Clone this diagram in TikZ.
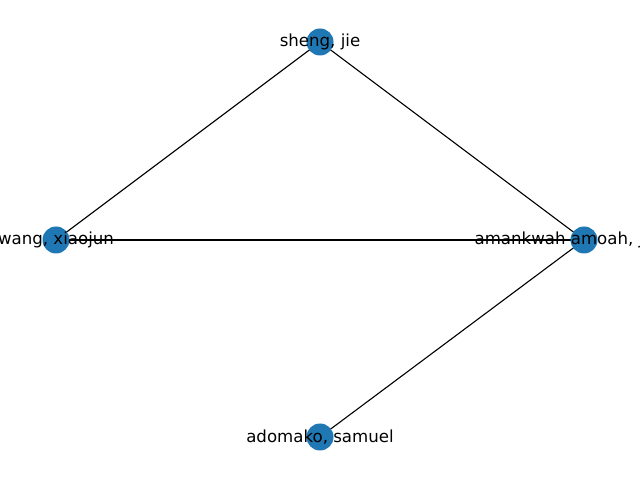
\documentclass[tikz,border=0pt]{standalone}
\usepackage{fontspec}
\setmainfont{DejaVu Sans}
\usetikzlibrary{backgrounds}
\definecolor{nodeblue}{HTML}{1F77B4}

\tikzset{vertex/.style={circle,fill=nodeblue,inner sep=0pt,minimum size=19.5pt},
         authorlabel/.style={font=\fontsize{12}{14}\selectfont,inner sep=0pt},
         edge/.style={draw=black,line width=0.8pt}}

\begin{document}
\begin{tikzpicture}[x=0.01in,y=-0.01in]
  \useasboundingbox (0,0) rectangle (640,480);
  \clip (0,0) rectangle (640,480);
  \node[vertex,label={[authorlabel]center:sheng, jie}] at (320,42) (sheng) {};
  \node[vertex,label={[authorlabel]center:wang, xiaojun}] at (56,240) (wang) {};
  \node[vertex,label={[authorlabel]center:amankwah amoah, joseph}] at (584,240) (amankwah) {};
  \node[vertex,label={[authorlabel]center:adomako, samuel}] at (320,437) (adomako) {};

  \begin{scope}[on background layer]
    \draw[edge] (sheng.center) -- (wang.center);
    \draw[edge] (sheng.center) -- (amankwah.center);
    \draw[edge] (wang.center) -- (amankwah.center);
    \draw[edge] (amankwah.center) -- (adomako.center);
  \end{scope}
\end{tikzpicture}
\end{document}
